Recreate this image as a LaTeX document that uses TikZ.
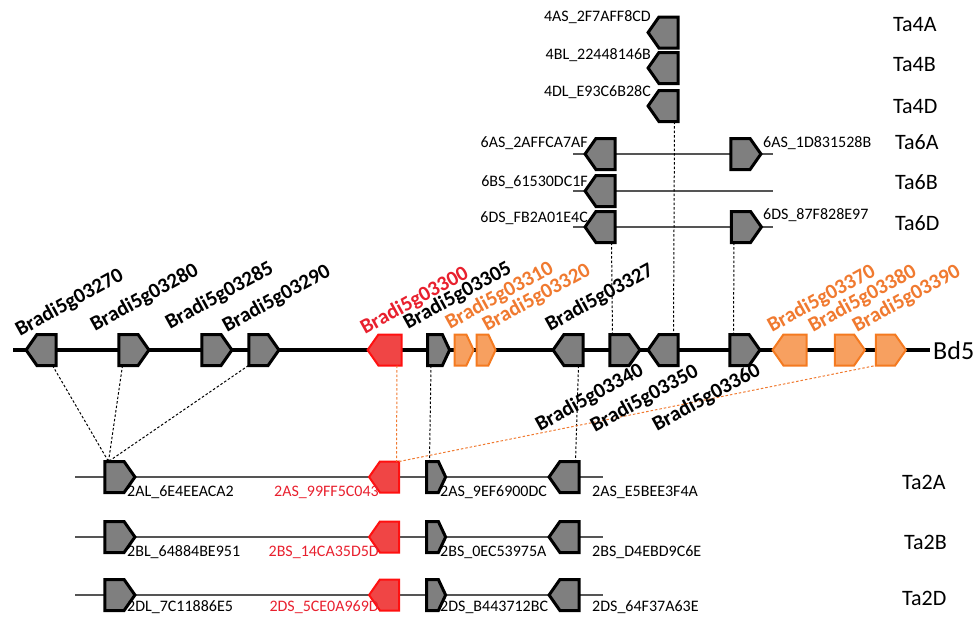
\documentclass[tikz,border=0pt]{standalone}
\usepackage{fontspec}
\setmainfont{Carlito}
\usetikzlibrary{shapes.symbols,calc}
\definecolor{genegray}{HTML}{7F7F7F}
\definecolor{redfill}{HTML}{F04545}
\definecolor{redline}{HTML}{FF1010}
\definecolor{orfill}{HTML}{F7A060}
\definecolor{orline}{HTML}{F47A20}
\definecolor{ortext}{HTML}{F07A30}
\definecolor{redtext}{HTML}{E8202E}
\definecolor{rowgray}{HTML}{555555}
\tikzset{
  gene/.style={signal, draw=black, line width=3pt, fill=genegray,
    minimum width=30pt, minimum height=31pt, inner sep=0pt, outer sep=0pt,
    signal pointer angle=110},
  narrow/.style={minimum width=19pt, signal pointer angle=130},
  R/.style={signal to=east},
  L/.style={signal to=west},
  redgene/.style={draw=redline, fill=redfill, line width=2pt},
  orgene/.style={draw=orline, fill=orfill, line width=2pt},
  blab/.style={font=\bfseries\fontsize{21}{25}\selectfont, rotate=29, inner sep=0pt, anchor=base west},
  slab/.style={font=\fontsize{16}{19}\selectfont, inner sep=0pt},
  talab/.style={font=\fontsize{22}{26}\selectfont, inner sep=0pt, anchor=west},
  chrom/.style={line width=3.5pt, black},
  row/.style={line width=1.5pt, rowgray},
  link/.style={black, line width=1pt, dash pattern=on 2.5pt off 2pt},
  olink/.style={ortext, line width=1pt, dash pattern=on 2.5pt off 2pt},
}
\begin{document}
\begin{tikzpicture}[x=1pt,y=-1pt]
\useasboundingbox (0,0) rectangle (977,616);

% ---------- row lines ----------
\coordinate (bdL) at (13,350);
\coordinate (bdR) at (930,350);
\draw[chrom] (bdL) -- (bdR);
\foreach \y/\n in {154/a,191/b,227/d}{
  \coordinate (s\n) at (573,\y);
  \coordinate (e\n) at (773,\y);
  \draw[row] (s\n) -- (e\n);
}
\foreach \y/\n in {477/A,537/B,595/D}{
  \coordinate (t\n) at (75,\y);
  \coordinate (u\n) at (603,\y);
  \draw[row] (t\n) -- (u\n);
}

% ---------- Bd5 genes ----------
\node[gene,L] (g03270) at (46.5,350) {};
\node[gene,R] (g03280) at (128.5,350) {};
\node[gene,R] (g03285) at (211.5,350) {};
\node[gene,R] (g03290) at (258.5,350) {};
\node[gene,L,redgene,minimum width=34pt] (g03300) at (390,350) {};
\node[gene,R,narrow,minimum width=22pt] (g03305) at (435,350) {};
\node[gene,R,narrow,orgene] (g03310) at (460.5,350) {};
\node[gene,R,narrow,orgene] (g03320) at (482.5,350) {};
\node[gene,L] (g03327) at (573.5,350) {};
\node[gene,R] (g03340) at (619.5,350) {};
\node[gene,L] (g03350) at (668.5,350) {};
\node[gene,R] (g03360) at (739.5,350) {};
\node[gene,L,orgene,minimum width=34pt] (g03370) at (795,350) {};
\node[gene,R,orgene] (g03380) at (844.5,350) {};
\node[gene,R,orgene] (g03390) at (885.5,350) {};

% ---------- Ta4 / Ta6 genes ----------
\node[gene,L] (a4) at (668.5,32.5) {};
\node[gene,L] (b4) at (668.5,68) {};
\node[gene,L] (d4) at (668.5,106) {};
\node[gene,L] (a6l) at (605.5,154) {};
\node[gene,R] (a6r) at (740.5,154) {};
\node[gene,L] (b6l) at (605.5,191) {};
\node[gene,L] (d6l) at (605.5,227) {};
\node[gene,R] (d6r) at (741,227) {};

% ---------- Ta2 genes ----------
\foreach \n/\y in {A/477,B/537,D/595}{
  \node[gene,R] (L\n) at (114.5,\y) {};
  \node[gene,L,redgene] (S\n) at (389.5,\y) {};
  \node[gene,R,narrow] (N\n) at (432.5,\y) {};
  \node[gene,L] (E\n) at (569.5,\y) {};
}

% ---------- connectors ----------
\draw[link] ([xshift=6pt]g03270.south) -- ([xshift=-6pt]LA.north);
\draw[link] ([xshift=-6pt]g03280.south) -- ([xshift=-6pt]LA.north);
\draw[link] ([xshift=-10pt]g03290.south) -- ([xshift=-6pt]LA.north);
\draw[olink] ([xshift=7pt]g03300.south) -- ([xshift=7pt]SA.north);
\draw[link] ([xshift=-4pt]g03305.south) -- ([xshift=-3pt]NA.north);
\draw[link] ([xshift=5pt]g03327.south) -- ([xshift=6pt]EA.north);
\draw[olink] (SA.north -| SA.east) -- (g03390.south -| g03390.west);
\draw[link] ([xshift=6pt]d4.south) -- ([xshift=5pt]g03350.north);
\draw[link] ([xshift=6pt]d6l.south) -- ([xshift=-7pt]g03340.north);
\draw[link] ([xshift=-7pt]d6r.south) -- ([xshift=-6pt]g03360.north);

% ---------- Bd5 gene labels ----------
\node[blab] (l03270) at (20,337) {Bradi5g03270};
\node[blab] (l03280) at (95,332) {Bradi5g03280};
\node[blab] (l03285) at (170,330) {Bradi5g03285};
\node[blab] (l03290) at (227,333) {Bradi5g03290};
\node[blab,redtext] (l03300) at (365,335) {Bradi5g03300};
\node[blab] (l03305) at (408,330) {Bradi5g03305};
\node[blab,ortext] (l03310) at (450,330) {Bradi5g03310};
\node[blab,ortext] (l03320) at (487,332) {Bradi5g03320};
\node[blab] (l03327) at (550,332) {Bradi5g03327};
\node[blab] (l03340) at (540,432) {Bradi5g03340};
\node[blab] (l03350) at (595,433) {Bradi5g03350};
\node[blab] (l03360) at (657,432) {Bradi5g03360};
\node[blab,ortext] (l03370) at (772,333) {Bradi5g03370};
\node[blab,ortext] (l03380) at (813,333) {Bradi5g03380};
\node[blab,ortext] (l03390) at (857,333) {Bradi5g03390};
\node[font=\fontsize{26}{30}\selectfont, inner sep=0pt, anchor=west] (bd5) at (933,351) {Bd5};

% ---------- small labels ----------
\node[slab,anchor=east] (n4a) at (651,17) {4AS\_2F7AFF8CD};
\node[slab,anchor=east] (n4b) at (651,55) {4BL\_22448146B};
\node[slab,anchor=east] (n4d) at (651,92) {4DL\_E93C6B28C};
\node[slab,anchor=east] (n6a) at (588,143) {6AS\_2AFFCA7AF};
\node[slab,anchor=west] (n6ar) at (763,143) {6AS\_1D831528B};
\node[slab,anchor=east] (n6b) at (588,182) {6BS\_61530DC1F};
\node[slab,anchor=east] (n6d) at (588,218) {6DS\_FB2A01E4C};
\node[slab,anchor=west] (n6dr) at (763,215) {6DS\_87F828E97};

\node[slab,anchor=west] (nLA) at (127,492) {2AL\_6E4EEACA2};
\node[slab,anchor=east,redtext] (nSA) at (379,492) {2AS\_99FF5C043};
\node[slab,anchor=west] (nNA) at (440,492) {2AS\_9EF6900DC};
\node[slab,anchor=west] (nEA) at (592,492) {2AS\_E5BEE3F4A};
\node[slab,anchor=west] (nLB) at (127,552) {2BL\_64884BE951};
\node[slab,anchor=east,redtext] (nSB) at (379,552) {2BS\_14CA35D5D};
\node[slab,anchor=west] (nNB) at (440,552) {2BS\_0EC53975A};
\node[slab,anchor=west] (nEB) at (592,552) {2BS\_D4EBD9C6E};
\node[slab,anchor=west] (nLD) at (127,607) {2DL\_7C11886E5};
\node[slab,anchor=east,redtext] (nSD) at (379,607) {2DS\_5CE0A969D};
\node[slab,anchor=west] (nND) at (440,607) {2DS\_B443712BC};
\node[slab,anchor=west] (nED) at (592,607) {2DS\_64F37A63E};

% ---------- genome labels ----------
\node[talab] (ta4a) at (893,25) {Ta4A};
\node[talab] (ta4b) at (893,65) {Ta4B};
\node[talab] (ta4d) at (893,107) {Ta4D};
\node[talab] (ta6a) at (895,142) {Ta6A};
\node[talab] (ta6b) at (895,182) {Ta6B};
\node[talab] (ta6d) at (895,223) {Ta6D};
\node[talab] (ta2a) at (902,482) {Ta2A};
\node[talab] (ta2b) at (904,542) {Ta2B};
\node[talab] (ta2d) at (902,598) {Ta2D};
\end{tikzpicture}
\end{document}
